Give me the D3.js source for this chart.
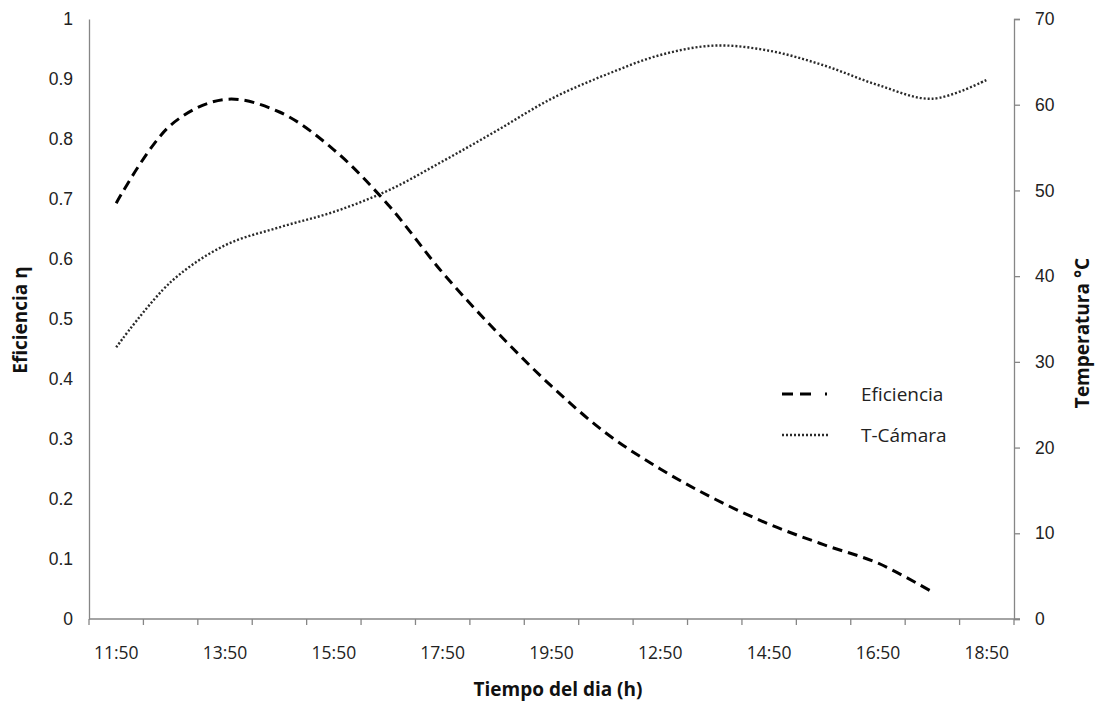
<!DOCTYPE html>
<html>
<head>
<meta charset="utf-8">
<script src="https://cdn.jsdelivr.net/npm/d3@7"></script>
<style>
  body { margin: 0; background: #fff; }
  svg { display: block; font-family: "Open Sans", "Liberation Sans", sans-serif; }
</style>
</head>
<body>
<svg id="chart" width="1097" height="702"></svg>
<script>
// Categories (17 time points); labels shown on every other category
const categories = ["11:50","12:50","13:50","14:50","15:50","16:50","17:50","18:50","19:50",
                    "11:50","12:50","13:50","14:50","15:50","16:50","17:50","18:50"];
const eficiencia = [0.693, 0.823, 0.866, 0.845, 0.782, 0.690, 0.577, 0.478, 0.388,
                    0.310, 0.250, 0.200, 0.158, 0.124, 0.093, 0.045];
const tCamara = [31.7, 39.3, 43.6, 45.7, 47.5, 50.0, 53.4, 57.0, 60.7,
                 63.5, 65.8, 66.9, 66.3, 64.6, 62.3, 60.7, 62.9];
const leftTicks = [0, 0.1, 0.2, 0.3, 0.4, 0.5, 0.6, 0.7, 0.8, 0.9, 1];
const rightTicks = [0, 10, 20, 30, 40, 50, 60, 70];
const seriesNames = ["Eficiencia", "T-Cámara"];

const svg = d3.select("#chart");
const pL = 89, pR = 1014, pT = 19, pB = 619;
const axisColor = "#868686";
const tickFont = 17.5;

const idx = d3.range(categories.length);
const x = d3.scaleBand().domain(idx).range([pL, pR]).padding(0);
const yL = d3.scaleLinear().domain([0, 1]).range([pB, pT]);
const yR = d3.scaleLinear().domain([0, 70]).range([pB, pT]);
const cx = i => x(i) + x.bandwidth() / 2;

// Left axis (line only, labels)
const gL = svg.append("g").attr("transform", `translate(${pL},0)`)
  .call(d3.axisLeft(yL).tickValues(leftTicks).tickSize(0).tickPadding(16)
        .tickFormat(d => d === 0 || d === 1 ? d3.format("d")(d) : d3.format(".1f")(d)));
gL.select(".domain").attr("stroke", axisColor).attr("stroke-width", 1.3);
gL.selectAll("text").attr("font-size", tickFont).attr("fill", "#222");

// Right axis
const gR = svg.append("g").attr("transform", `translate(${pR},0)`)
  .call(d3.axisRight(yR).tickValues(rightTicks).tickSize(6).tickPadding(15));
gR.select(".domain").attr("stroke", axisColor).attr("stroke-width", 1.3);
gR.selectAll(".tick line").attr("stroke", axisColor).attr("stroke-width", 1.3);
gR.selectAll("text").attr("font-size", tickFont).attr("fill", "#222");

// Bottom axis
const gB = svg.append("g").attr("transform", `translate(0,${pB})`);
gB.append("line").attr("x1", pL).attr("x2", pR + 6).attr("y1", 0).attr("y2", 0)
  .attr("stroke", axisColor).attr("stroke-width", 1.3);
const boundaries = idx.map(i => x(i)).concat([pR]);
gB.selectAll("line.tk").data(boundaries).join("line").attr("class", "tk")
  .attr("x1", d => d).attr("x2", d => d).attr("y1", 0).attr("y2", 6)
  .attr("stroke", axisColor).attr("stroke-width", 1.3);
gB.selectAll("text.lbl").data(idx.filter(i => i % 2 === 0)).join("text").attr("class", "lbl")
  .attr("x", i => cx(i)).attr("y", 40).attr("text-anchor", "middle")
  .attr("font-size", tickFont).attr("fill", "#222").text(i => categories[i]);

// Axis titles
svg.append("text").attr("x", 558).attr("y", 696).attr("text-anchor", "middle")
  .attr("font-size", 19).attr("font-weight", "bold").attr("fill", "#111").text("Tiempo del dia (h)");
svg.append("text").attr("transform", "translate(27,320) rotate(-90)").attr("text-anchor", "middle")
  .attr("font-size", 19).attr("font-weight", "bold").attr("fill", "#111").text("Eficiencia  η");
svg.append("text").attr("transform", "translate(1089,333) rotate(-90)").attr("text-anchor", "middle")
  .attr("font-size", 19).attr("font-weight", "bold").attr("fill", "#111").text("Temperatura °C");

// Lines
const lineE = d3.line().x((d, i) => cx(i)).y(d => yL(d)).curve(d3.curveCatmullRom.alpha(0.5));
const lineT = d3.line().x((d, i) => cx(i)).y(d => yR(d)).curve(d3.curveCatmullRom.alpha(0.5));

svg.append("path").datum(tCamara).attr("d", lineT).attr("fill", "none")
  .attr("stroke", "#2a2a2a").attr("stroke-width", 2.4).attr("stroke-dasharray", "2,2");
svg.append("path").datum(eficiencia).attr("d", lineE).attr("fill", "none")
  .attr("stroke", "#000").attr("stroke-width", 3).attr("stroke-dasharray", "10,6");

// Legend
const legend = svg.append("g");
const legY = [394, 435];
legend.append("line").attr("x1", 782).attr("x2", 830).attr("y1", legY[0]).attr("y2", legY[0])
  .attr("stroke", "#000").attr("stroke-width", 3).attr("stroke-dasharray", "11,7,11,14,2,10");
legend.append("line").attr("x1", 782).attr("x2", 829).attr("y1", legY[1]).attr("y2", legY[1])
  .attr("stroke", "#2a2a2a").attr("stroke-width", 2.4).attr("stroke-dasharray", "2,2");
seriesNames.forEach((n, k) => {
  legend.append("text").attr("x", 861).attr("y", legY[k] + 7).attr("font-size", 19)
    .attr("fill", "#222").text(n);
});
</script>
</body>
</html>
